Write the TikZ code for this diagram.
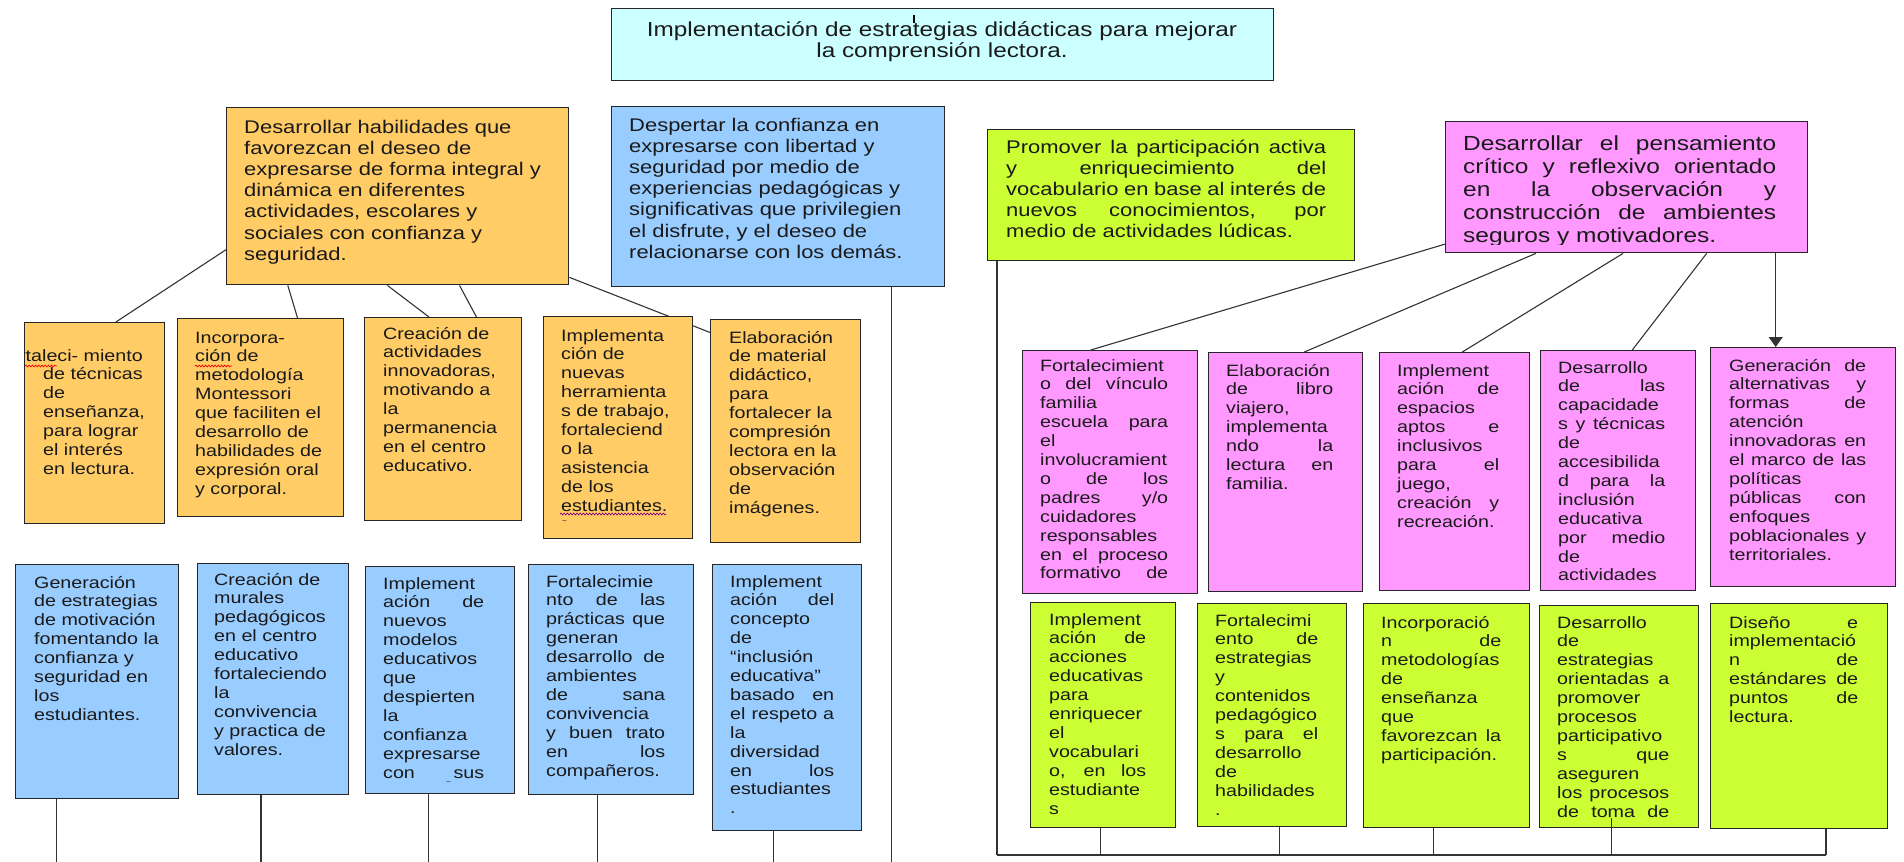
\documentclass[tikz,border=0pt]{standalone}
\usepackage{fontspec}
\setmainfont{Liberation Sans}[FakeStretch=1.2]
\usepackage{tikz}
\usetikzlibrary{calc}
\usetikzlibrary{arrows.meta}
\usetikzlibrary{decorations.pathmorphing}
\definecolor{celeste}{HTML}{CCFFFF}
\definecolor{naranja}{HTML}{FFCC66}
\definecolor{azul}{HTML}{99CCFF}
\definecolor{verde}{HTML}{CCFF33}
\definecolor{rosa}{HTML}{FF99FF}
\definecolor{tinta}{HTML}{1A1A1A}
\pgfdeclarelayer{fondo}
\pgfsetlayers{fondo,main}
\newcommand{\bloque}[2]{\parbox[t]{#1pt}{\raggedright #2}}
\newcommand{\bloquej}[2]{\parbox[t]{#1pt}{#2}}
\tolerance=10000 \hbadness=10000 \hfuzz=8pt
\hyphenpenalty=10000 \exhyphenpenalty=10000

\begin{document}
\begin{tikzpicture}[
x=1pt, y=-1pt,
Caja/.style={draw=black!85, line width=1.4pt, anchor=north west, inner sep=0pt},
Texto/.style={anchor=base west, inner sep=0pt, text=tinta},
Chica/.style={font={\fontsize{16.4}{18.9}\selectfont}},
Grande/.style={font={\fontsize{18.3}{21.2}\selectfont}},
Linea/.style={draw=black!80, line width=1.1pt},
Subrayado/.style={decorate, decoration={snake, amplitude=0.9pt, segment length=3.2pt}, line width=0.7pt}
]
\useasboundingbox (0,0) rectangle (1904,862);
\coordinate (fondo) at (0,862);
\coordinate (base) at (997,855);

% objetivo general
\node[Caja, fill=celeste, minimum width=662pt, minimum height=72pt] (titulo) at (611,8) {};
\node[Texto, anchor=base, font={\fontsize{20.25}{21}\selectfont}] (titulo-t) at (942,36)
  {\parbox[t]{640pt}{\centering Implementación de estrategias didácticas para mejorar\\ la comprensión lectora.}};
\fill[black] (912.5,15) rectangle (914.5,23);

% objetivos especificos
\node[Caja, fill=naranja, minimum width=342pt, minimum height=177pt] (ob) at (226,107) {};
\node[Texto, Grande] (ob-t) at (244,133) {\bloque{320}{Desarrollar habilidades que\\ favorezcan el deseo de\\ expresarse de forma integral y\\ dinámica en diferentes\\ actividades, escolares y\\ sociales con confianza y\\ seguridad.}};

\node[Caja, fill=azul, minimum width=333pt, minimum height=180pt] (bb) at (611,106) {};
\node[Texto, Grande] (bb-t) at (629,131) {\bloque{312}{Despertar la confianza en\\ expresarse con libertad y\\ seguridad por medio de\\ experiencias pedagógicas y\\ significativas que privilegien\\ el disfrute, y el deseo de\\ relacionarse con los demás.}};

\node[Caja, fill=verde, minimum width=367pt, minimum height=131pt] (gb) at (987,129) {};
\node[Texto, Grande] (gb-t) at (1006,153) {\bloquej{320}{Promover la participación activa\linebreak y enriquecimiento del\linebreak vocabulario en base al interés de\linebreak nuevos conocimientos, por\linebreak medio de actividades lúdicas.}};

\node[Caja, fill=rosa, minimum width=362pt, minimum height=131pt] (pb) at (1445,121) {};
\begin{scope}
\clip (pb.north west) rectangle ($(pb.south east)+(0,-9)$);
\node[Texto, font={\fontsize{20.4}{23}\selectfont}] (pb-t) at (1463,150) {\bloquej{313}{Desarrollar el pensamiento\linebreak crítico y reflexivo orientado\linebreak en la observación y\linebreak construcción de ambientes\linebreak seguros y motivadores.}};
\end{scope}

% actividades naranja
\node[Caja, fill=naranja, minimum width=140pt, minimum height=201pt] (o1) at (24,322) {};
\begin{scope}
\clip (o1.north west) rectangle (o1.south east);
\node[Texto, Chica] (o1-t) at (43,361) {\bloque{115}{\hspace*{-47pt}Fortaleci- miento\\ de técnicas\\ de\\ enseñanza,\\ para lograr\\ el interés\\ en lectura.}};
\end{scope}
\draw[red, Subrayado] (25,366) -- (57,366);

\node[Caja, fill=naranja, minimum width=166pt, minimum height=198pt] (o2) at (177,318) {};
\node[Texto, Chica] (o2-t) at (195,343) {\bloque{140}{Incorpora-\\ ción de\\ metodología\\ Montessori\\ que faciliten el\\ desarrollo de\\ habilidades de\\ expresión oral\\ y corporal.}};
\draw[red, Subrayado] (195,366) -- (232,366);

\node[Caja, fill=naranja, minimum width=157pt, minimum height=203pt] (o3) at (364,317) {};
\node[Texto, Chica] (o3-t) at (383,339) {\bloque{132}{Creación de\\ actividades\\ innovadoras,\\ motivando a\\ la\\ permanencia\\ en el centro\\ educativo.}};

\node[Caja, fill=naranja, minimum width=149pt, minimum height=222pt] (o4) at (543,316) {};
\node[Texto, Chica] (o4-t) at (561,341) {\bloque{125}{Implementa\\ ción de\\ nuevas\\ herramienta\\ s de trabajo,\\ fortaleciend\\ o la\\ asistencia\\ de los\\ estudiantes.}};
\draw[violet, Subrayado] (560,514) -- (666,514);
\node[Texto, font={\fontsize{7}{7}\selectfont}] (o4-marca) at (562,523) {\textasciitilde};

\node[Caja, fill=naranja, minimum width=150pt, minimum height=223pt] (o5) at (710,319) {};
\node[Texto, Chica] (o5-t) at (729,343) {\bloque{125}{Elaboración\\ de material\\ didáctico,\\ para\\ fortalecer la\\ compresión\\ lectora en la\\ observación\\ de\\ imágenes.}};

% actividades azul
\node[Caja, fill=azul, minimum width=163pt, minimum height=234pt] (b1) at (15,564) {};
\node[Texto, Chica] (b1-t) at (34,588) {\bloque{140}{Generación\\ de estrategias\\ de motivación\\ fomentando la\\ confianza y\\ seguridad en\\ los\\ estudiantes.}};

\node[Caja, fill=azul, minimum width=151pt, minimum height=231pt] (b2) at (197,563) {};
\node[Texto, Chica] (b2-t) at (214,585) {\bloque{130}{Creación de\\ murales\\ pedagógicos\\ en el centro\\ educativo\\ fortaleciendo\\ la\\ convivencia\\ y practica de\\ valores.}};

\node[Caja, fill=azul, minimum width=149pt, minimum height=227pt] (b3) at (365,566) {};
\node[Texto, Chica] (b3-t) at (383,589) {\bloquej{101}{Implement\linebreak ación de\linebreak nuevos\linebreak modelos\linebreak educativos\linebreak que\linebreak despierten\linebreak la\linebreak confianza\linebreak expresarse\linebreak con \hfill sus}};
\node[Texto, font={\fontsize{7}{7}\selectfont}] (b3-marca) at (446,784) {\textasciitilde};

\node[Caja, fill=azul, minimum width=165pt, minimum height=230pt] (b4) at (528,564) {};
\node[Texto, Chica] (b4-t) at (546,587) {\bloquej{119}{Fortalecimie\linebreak nto de las\linebreak prácticas que\linebreak generan\linebreak desarrollo de\linebreak ambientes\linebreak de sana\linebreak convivencia\linebreak y buen trato\linebreak en los\linebreak compañeros.}};

\node[Caja, fill=azul, minimum width=149pt, minimum height=266pt] (b5) at (712,564) {};
\node[Texto, Chica] (b5-t) at (730,587) {\bloquej{104}{Implement\linebreak ación del\linebreak concepto\linebreak de\linebreak “inclusión\linebreak educativa”\linebreak basado en\linebreak el respeto a\linebreak la\linebreak diversidad\linebreak en los\linebreak estudiantes\linebreak .}};

% actividades rosa
\node[Caja, fill=rosa, minimum width=175pt, minimum height=243pt] (p1) at (1022,350) {};
\node[Texto, Chica] (p1-t) at (1040,371) {\bloquej{128}{Fortalecimient\linebreak o del vínculo\linebreak familia\linebreak escuela para\linebreak el\linebreak involucramient\linebreak o de los\linebreak padres y/o\linebreak cuidadores\linebreak responsables\linebreak en el proceso\linebreak formativo \hfill de}};

\node[Caja, fill=rosa, minimum width=154pt, minimum height=239pt] (p2) at (1208,352) {};
\node[Texto, Chica] (p2-t) at (1226,376) {\bloquej{107}{Elaboración\linebreak de libro\linebreak viajero,\linebreak implementa\linebreak ndo la\linebreak lectura en\linebreak familia.}};

\node[Caja, fill=rosa, minimum width=150pt, minimum height=238pt] (p3) at (1379,352) {};
\node[Texto, Chica] (p3-t) at (1397,376) {\bloquej{102}{Implement\linebreak ación de\linebreak espacios\linebreak aptos e\linebreak inclusivos\linebreak para el\linebreak juego,\linebreak creación y\linebreak recreación.}};

\node[Caja, fill=rosa, minimum width=155pt, minimum height=240pt] (p4) at (1540,350) {};
\node[Texto, Chica] (p4-t) at (1558,373) {\bloquej{107}{Desarrollo\linebreak de las\linebreak capacidade\linebreak s y técnicas\linebreak de\linebreak accesibilida\linebreak d para la\linebreak inclusión\linebreak educativa\linebreak por medio\linebreak de\linebreak actividades}};

\node[Caja, fill=rosa, minimum width=185pt, minimum height=239pt] (p5) at (1710,347) {};
\node[Texto, Chica] (p5-t) at (1729,371) {\bloquej{137}{Generación de\linebreak alternativas y\linebreak formas de\linebreak atención\linebreak innovadoras en\linebreak el marco de las\linebreak políticas\linebreak públicas con\linebreak enfoques\linebreak poblacionales y\linebreak territoriales.}};

% actividades verde
\node[Caja, fill=verde, minimum width=145pt, minimum height=225pt] (g1) at (1030,602) {};
\node[Texto, Chica] (g1-t) at (1049,625) {\bloquej{97}{Implement\linebreak ación de\linebreak acciones\linebreak educativas\linebreak para\linebreak enriquecer\linebreak el\linebreak vocabulari\linebreak o, en los\linebreak estudiante\linebreak s}};

\node[Caja, fill=verde, minimum width=149pt, minimum height=223pt] (g2) at (1197,603) {};
\node[Texto, Chica] (g2-t) at (1215,626) {\bloquej{103}{Fortalecimi\linebreak ento de\linebreak estrategias\linebreak y\linebreak contenidos\linebreak pedagógico\linebreak s para el\linebreak desarrollo\linebreak de\linebreak habilidades\linebreak .}};

\node[Caja, fill=verde, minimum width=166pt, minimum height=224pt] (g3) at (1363,603) {};
\node[Texto, Chica] (g3-t) at (1381,628) {\bloquej{120}{Incorporació\linebreak n de\linebreak metodologías\linebreak de\linebreak enseñanza\linebreak que\linebreak favorezcan la\linebreak participación.}};

\node[Caja, fill=verde, minimum width=159pt, minimum height=222pt] (g4) at (1539,605) {};
\node[Texto, Chica] (g4-t) at (1557,628) {\bloquej{112}{Desarrollo\linebreak de\linebreak estrategias\linebreak orientadas a\linebreak promover\linebreak procesos\linebreak participativo\linebreak s que\linebreak aseguren\linebreak los procesos\linebreak de \hfill toma \hfill de}};

\node[Caja, fill=verde, minimum width=177pt, minimum height=225pt] (g5) at (1710,603) {};
\node[Texto, Chica] (g5-t) at (1729,628) {\bloquej{129}{Diseño e\linebreak implementació\linebreak n de\linebreak estándares de\linebreak puntos de\linebreak lectura.}};

% conectores
\begin{pgfonlayer}{fondo}
\draw[Linea] ($(ob.north west)!0.8!(ob.south west)$) -- ($(o1.north west)!0.65!(o1.north east)$);
\draw[Linea] ($(ob.south west)!0.18!(ob.south east)$) -- ($(o2.north west)!0.72!(o2.north east)$);
\draw[Linea] ($(ob.south west)!0.47!(ob.south east)$) -- ($(o3.north west)!0.41!(o3.north east)$);
\draw[Linea] ($(ob.south west)!0.68!(ob.south east)$) -- ($(o3.north west)!0.71!(o3.north east)$);
\draw[Linea] ($(ob.north east)!0.955!(ob.south east)$) -- ($(o5.north west)!0.06!(o5.south west)$);

\draw[Linea] ($(bb.south west)!0.84!(bb.south east)$) coordinate (bb-f) -- (bb-f |- fondo);
\draw[Linea] ($(b1.south west)!0.25!(b1.south east)$) coordinate (b1-f) -- (b1-f |- fondo);
\draw[Linea] ($(b2.south west)!0.42!(b2.south east)$) coordinate (b2-f) -- (b2-f |- fondo);
\draw[Linea] ($(b3.south west)!0.42!(b3.south east)$) coordinate (b3-f) -- (b3-f |- fondo);
\draw[Linea] ($(b4.south west)!0.42!(b4.south east)$) coordinate (b4-f) -- (b4-f |- fondo);
\draw[Linea] ($(b5.south west)!0.41!(b5.south east)$) coordinate (b5-f) -- (b5-f |- fondo);

\draw[Linea] ($(pb.north west)!0.93!(pb.south west)$) -- ($(p1.north west)!0.39!(p1.north east)$);
\draw[Linea] ($(pb.south west)!0.25!(pb.south east)$) -- ($(p2.north west)!0.62!(p2.north east)$);
\draw[Linea] ($(pb.south west)!0.49!(pb.south east)$) -- ($(p3.north west)!0.55!(p3.north east)$);
\draw[Linea] ($(pb.south west)!0.72!(pb.south east)$) -- ($(p4.north west)!0.59!(p4.north east)$);
\draw[Linea, -{Triangle[length=10pt, width=14pt]}] ($(pb.south west)!0.91!(pb.south east)$) coordinate (pb-f) -- (pb-f |- p5.north);

\draw[Linea] ($(gb.south west)!0.027!(gb.south east)$) coordinate (gb-f) -- (gb-f |- base) coordinate (base-izq);
\draw[Linea] ($(g5.south west)!0.65!(g5.south east)$) coordinate (g5-f) -- (g5-f |- base) coordinate (base-der);
\draw[Linea] (base-izq) -- (base-der);
\draw[Linea] ($(g1.south west)!0.48!(g1.south east)$) coordinate (g1-f) -- (g1-f |- base);
\draw[Linea] ($(g2.south west)!0.55!(g2.south east)$) coordinate (g2-f) -- (g2-f |- base);
\draw[Linea] ($(g3.south west)!0.42!(g3.south east)$) coordinate (g3-f) -- (g3-f |- base);
\end{pgfonlayer}
\draw[Linea] ($(g4.south west)!0.45!(g4.south east)+(0,-10)$) coordinate (g4-f) -- (g4-f |- base);

\end{tikzpicture}
\end{document}
